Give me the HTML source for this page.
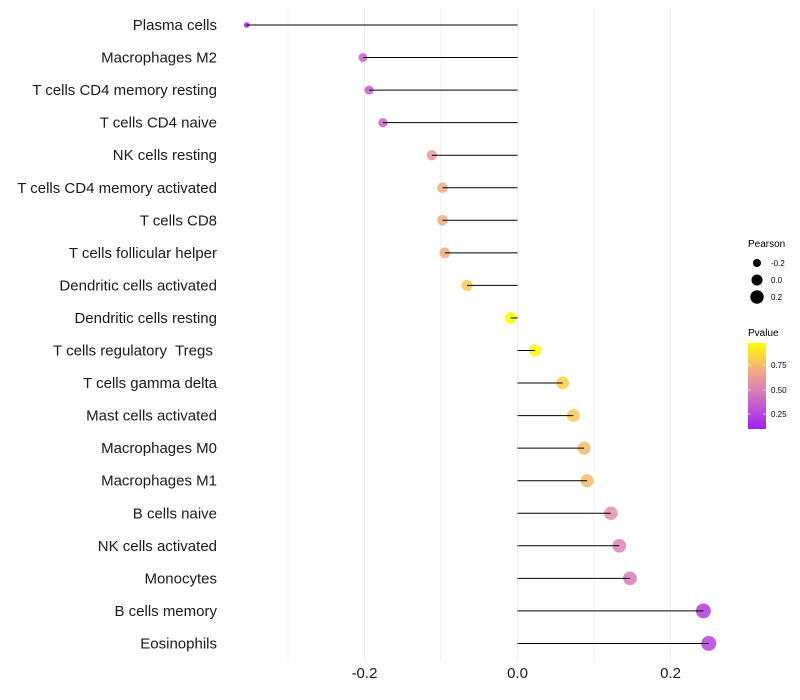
<!DOCTYPE html>
<html><head><meta charset="utf-8"><style>
body{margin:0;background:#fff;}
svg{display:block;font-family:"Liberation Sans",sans-serif;}
</style></head><body>
<svg id="chart" width="800" height="700">
<defs><linearGradient id="pg" x1="0" y1="1" x2="0" y2="0">
<stop offset="0" stop-color="#A020F0"/><stop offset="0.45" stop-color="#DA7FB8"/><stop offset="0.7" stop-color="#F2B07C"/><stop offset="1" stop-color="#FFFF00"/></linearGradient></defs>
<g id="grid"></g>
<g id="marks"></g>
<g id="ylabels"></g>
<g id="xlabels"></g>
<g>
<text x="748" y="247" font-size="10">Pearson</text>
<circle cx="757" cy="263" r="4" fill="#000"/><text x="771" y="266" font-size="8">-0.2</text>
<circle cx="757" cy="280" r="5.5" fill="#000"/><text x="771" y="283" font-size="8">0.0</text>
<circle cx="757" cy="297" r="6.7" fill="#000"/><text x="771" y="300" font-size="8">0.2</text>
</g>
<g>
<text x="748" y="336" font-size="10">Pvalue</text>
<rect x="748" y="343" width="18" height="86" fill="url(#pg)"/>
<line x1="748" x2="751" y1="365" y2="365" stroke="#fff" opacity=".6"/><line x1="763" x2="766" y1="365" y2="365" stroke="#fff" opacity=".6"/>
<line x1="748" x2="751" y1="390" y2="390" stroke="#fff" opacity=".6"/><line x1="763" x2="766" y1="390" y2="390" stroke="#fff" opacity=".6"/>
<line x1="748" x2="751" y1="414" y2="414" stroke="#fff" opacity=".6"/><line x1="763" x2="766" y1="414" y2="414" stroke="#fff" opacity=".6"/>
<text x="771" y="368" font-size="8">0.75</text><text x="771" y="393" font-size="8">0.50</text><text x="771" y="417" font-size="8">0.25</text>
</g>
</svg>
<script>
const categories=["Plasma cells","Macrophages M2","T cells CD4 memory resting","T cells CD4 naive","NK cells resting","T cells CD4 memory activated","T cells CD8","T cells follicular helper","Dendritic cells activated","Dendritic cells resting","T cells regulatory  Tregs ","T cells gamma delta","Mast cells activated","Macrophages M0","Macrophages M1","B cells naive","NK cells activated","Monocytes","B cells memory","Eosinophils"];
const pearson=[-0.354,-0.202,-0.194,-0.176,-0.112,-0.098,-0.098,-0.095,-0.066,-0.009,0.023,0.059,0.073,0.087,0.091,0.122,0.133,0.147,0.243,0.25];
const pvalues=[0.1,0.35,0.35,0.38,0.6,0.7,0.7,0.7,0.8,0.98,0.96,0.82,0.8,0.75,0.75,0.58,0.52,0.48,0.22,0.24];
const xTicks=[-0.2,0.0,0.2];
const xTickLabels=["-0.2","0.0","0.2"];
const gridVals=[-0.3,-0.2,-0.1,0,0.1,0.2];
const NS="http://www.w3.org/2000/svg";
const x=v=>517.5+v*765;
const y=i=>25+i*32.55;
const r=p=>Math.sqrt(Math.max(36+80*p,3));
function col(p){const st=[[0,[160,32,240]],[0.45,[218,127,184]],[0.7,[242,176,124]],[1,[255,255,0]]];
 const t=Math.max(0.1,Math.min(0.98,p));const q=(t-0.1)/0.88;
 for(let k=1;k<st.length;k++){if(q<=st[k][0]){const a=st[k-1],b=st[k],f=(q-a[0])/(b[0]-a[0]);return "rgb("+a[1].map((c,j)=>Math.round(c+(b[1][j]-c)*f)).join(",")+")";}}return "rgb(255,255,0)";}
function mk(tag,at,parent){const e=document.createElementNS(NS,tag);for(const k in at)e.setAttribute(k,at[k]);parent.appendChild(e);return e;}
const grid=document.getElementById('grid'),marks=document.getElementById('marks'),yl=document.getElementById('ylabels'),xl=document.getElementById('xlabels');
gridVals.forEach(v=>{const l=mk('line',{x1:x(v),x2:x(v),y1:8,y2:662,stroke:'#efefef','stroke-width':1},grid);

});
categories.forEach((c,i)=>{
 const d=mk('circle',{cx:x(pearson[i]),cy:y(i),r:r(pearson[i]),fill:col(pvalues[i]),'fill-opacity':0.85},marks);
 
 
 const s=mk('line',{x1:x(0),x2:x(pearson[i]),y1:y(i),y2:y(i),stroke:'#000','stroke-width':1},marks);
 
 
 const t=mk('text',{x:217,y:y(i)+5,'text-anchor':'end','font-size':15,fill:'#1a1a1a',style:'white-space:pre'},yl);
 t.textContent=c;
 
 
});
xTicks.forEach((v,i)=>{const t=mk('text',{x:x(v),y:678,'text-anchor':'middle','font-size':15,fill:'#1a1a1a'},xl);
t.textContent=xTickLabels[i];

});
</script>
</body></html>
